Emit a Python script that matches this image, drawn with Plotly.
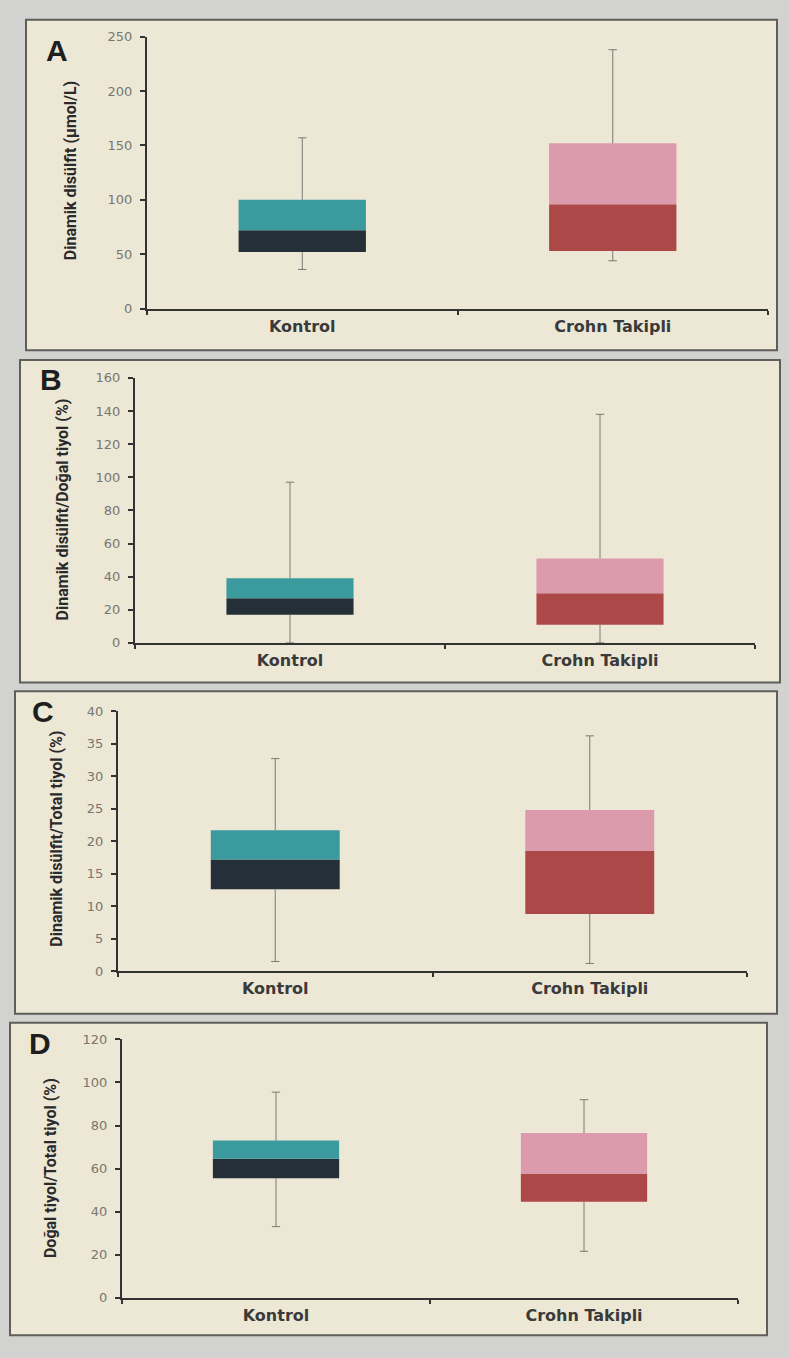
import plotly.graph_objects as go

W, H = 790, 1358

categories = ["Kontrol", "Crohn Takipli"]
panel_letters = ["A", "B", "C", "D"]
y_titles = [
    "Dinamik disülfit (µmol/L)",
    "Dinamik disülfit/Doğal tiyol (%)",
    "Dinamik disülfit/Total tiyol (%)",
    "Doğal tiyol/Total tiyol (%)",
]
y_max = [250, 160, 40, 120]
y_dtick = [50, 20, 5, 20]

# per panel: [Kontrol, Crohn Takipli]
whisker_low = [[36, 44], [0, 0], [1.5, 1.2], [33, 21.5]]
q1 = [[52, 53], [17, 11], [12.6, 8.8], [55.5, 44.5]]
median = [[72, 96], [27, 30], [17.2, 18.5], [64.5, 57.5]]
q3 = [[100, 152], [39, 51], [21.7, 24.8], [73, 76.5]]
whisker_high = [[157, 238], [97, 138], [32.7, 36.2], [95.5, 92]]

lower_colors = ["#252f37", "#ad4848"]
upper_colors = ["#3a9a9e", "#dc9aad"]

# geometry in pixels
plots = [(147, 768, 30, 305), (135, 755, 375, 643), (118, 747, 712, 975), (122, 738, 1044, 1305)]
frames = [(26, 777, 13, 347), (20, 780, 357, 683), (15, 777, 692, 1018), (10, 767, 1027, 1343)]
letter_pos = [(57, 44), (51, 377), (43, 712), (40, 1048)]
title_pos = [(70, 166), (62, 508), (57, 841), (50, 1174)]


def px(x):
    return x / W


def py(y):
    return 1 - y / H


fig = go.Figure()
layout = dict(
    width=W, height=H, margin=dict(l=0, r=0, t=0, b=0),
    paper_bgcolor="#d2d2d0", plot_bgcolor="rgba(0,0,0,0)",
    showlegend=False, barmode="overlay",
    shapes=[], annotations=[],
)

for i in range(4):
    n = "" if i == 0 else str(i + 1)
    xa, ya = "x" + n, "y" + n
    x0, x1, y0, y1 = plots[i]
    fx0, fx1, fy0, fy1 = frames[i]
    layout["shapes"].append(dict(
        type="rect", xref="paper", yref="paper",
        x0=px(fx0), x1=px(fx1), y0=py(fy1), y1=py(fy0),
        fillcolor="#ede7d6", line=dict(color="#5e5e5a", width=2), layer="below",
    ))
    # whiskers
    wx, wy = [], []
    cx, cy = [], []
    for j, c in enumerate(categories):
        wx += [c, c, None, c, c, None]
        wy += [whisker_low[i][j], q1[i][j], None, q3[i][j], whisker_high[i][j], None]
        cx += [c, c]
        cy += [whisker_low[i][j], whisker_high[i][j]]
    fig.add_trace(go.Scatter(x=wx, y=wy, mode="lines", line=dict(color="#7a7a74", width=1),
                             xaxis=xa, yaxis=ya, hoverinfo="skip"))
    fig.add_trace(go.Scatter(x=cx, y=cy, mode="markers",
                             marker=dict(symbol="line-ew", size=6, line=dict(color="#7a7a74", width=1)),
                             xaxis=xa, yaxis=ya, hoverinfo="skip"))
    # boxes
    fig.add_trace(go.Bar(x=categories, y=[median[i][j] - q1[i][j] for j in range(2)],
                         base=q1[i], width=0.41, marker=dict(color=lower_colors, line=dict(width=0)),
                         xaxis=xa, yaxis=ya))
    fig.add_trace(go.Bar(x=categories, y=[q3[i][j] - median[i][j] for j in range(2)],
                         base=median[i], width=0.41, marker=dict(color=upper_colors, line=dict(width=0)),
                         xaxis=xa, yaxis=ya))
    layout["xaxis" + n] = dict(
        domain=[px(x0), px(x1)], anchor=ya, type="category",
        categoryorder="array", categoryarray=categories, range=[-0.5, 1.5],
        tickson="boundaries", ticks="outside", ticklen=4, tickwidth=1.5, tickcolor="#333",
        showline=True, linecolor="#333", linewidth=2, showgrid=False, zeroline=False,
        tickfont=dict(family="DejaVu Sans", size=16, color="#3a3a3a", weight="bold"),
        ticklabelstandoff=2, fixedrange=True,
    )
    layout["yaxis" + n] = dict(
        domain=[py(y1), py(y0)], anchor=xa, range=[0, y_max[i]], dtick=y_dtick[i],
        tick0=0, ticks="outside", ticklen=5, tickwidth=1.5, tickcolor="#333",
        showline=True, linecolor="#333", linewidth=2, showgrid=False, zeroline=False,
        tickfont=dict(family="DejaVu Sans", size=13, color="#77776f"),
        ticklabelstandoff=5, fixedrange=True,
    )
    lx, ly = letter_pos[i]
    layout["annotations"].append(dict(
        text=panel_letters[i], x=px(lx), y=py(ly), xref="paper", yref="paper",
        showarrow=False, xanchor="center", yanchor="middle",
        font=dict(family="Liberation Sans", size=30, color="#1e1e1e", weight="bold"),
    ))
    tx, ty = title_pos[i]
    layout["annotations"].append(dict(
        text=y_titles[i], x=px(tx), y=py(ty), xref="paper", yref="paper",
        showarrow=False, xanchor="center", yanchor="middle", textangle=-90,
        font=dict(family="Roboto", size=16, color="#2a2a2a", weight="bold"),
    ))

fig.update_layout(**layout)
fig.write_html(
    "out.html",
    config={"displayModeBar": False},
    post_script="document.body.style.margin='0';document.body.style.background='#d2d2d0';",
)
